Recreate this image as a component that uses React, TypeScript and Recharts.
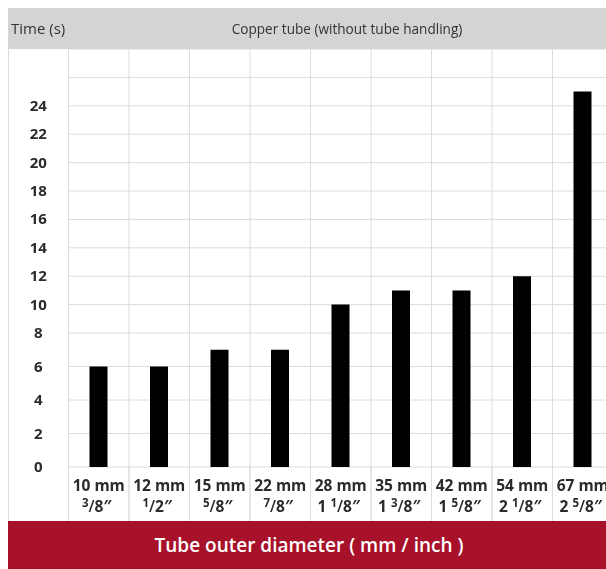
import { BarChart, Bar, XAxis, YAxis, CartesianGrid } from 'recharts';

const sizes = ['10 mm', '12 mm', '15 mm', '22 mm', '28 mm', '35 mm', '42 mm', '54 mm', '67 mm'];
const inchSizes = ['3/8', '1/2', '5/8', '7/8', '1 1/8', '1 3/8', '1 5/8', '2 1/8', '2 5/8'];
const times = [6, 6, 7, 7, 10, 11, 11, 12, 25];
const gridLevels = [0, 2, 4, 6, 8, 10, 12, 14, 16, 18, 20, 22, 24, 26];
const labelledMax = 24;

// the source chart squeezes the axis above 8 s
const SCALE_BREAK = 8;
const UPPER_STRETCH = 0.848;
const AXIS_TOP = 28;
const toAxis = (v: number) => (v <= SCALE_BREAK ? v : SCALE_BREAK + (v - SCALE_BREAK) * UPPER_STRETCH);
const fromAxis = (v: number) => (v <= SCALE_BREAK ? v : SCALE_BREAK + (v - SCALE_BREAK) / UPPER_STRETCH);

const data = sizes.map((size, i) => ({ size, inch: inchSizes[i], time: times[i], plotted: toAxis(times[i]) }));

const FONT = '"Open Sans", sans-serif';
const GRID = '#dcdcdc';
const TEXT = '#2b2b2b';
const HEADER_H = 41;
const Y_AXIS_W = 60.5;
const X_AXIS_H = 54;
const CHART_W = 700;
const CHART_H = 513;
const PLOT_W = 544.5;
const BAND = PLOT_W / sizes.length;

// vertical lines sit on the column edges, not the column centres
const columnLines = ({ offset }: any) =>
  Array.from({ length: sizes.length + 1 }, (_, i) => offset.left + (i * offset.width) / sizes.length);

function YTick(props: any) {
  const { y, payload } = props;
  const label = Math.round(fromAxis(payload.value));
  if (label > labelledMax) return <g />;
  return (
    <text x={Y_AXIS_W / 2} y={y} dy={5} textAnchor="middle" fontFamily={FONT} fontSize={15} fontWeight={700} fill={TEXT}>
      {label}
    </text>
  );
}

function XTick(props: any) {
  const { x, y, payload, index } = props;
  const inch: string = data[index]?.inch ?? '';
  const parts = inch.split(' ');
  const whole = parts.length > 1 ? parts[0] : '';
  const [num, den] = parts[parts.length - 1].split('/');
  return (
    <g>
      <line x1={x - BAND / 2} x2={x - BAND / 2} y1={y} y2={y + X_AXIS_H} stroke={GRID} />
      <line x1={x + BAND / 2} x2={x + BAND / 2} y1={y} y2={y + X_AXIS_H} stroke={GRID} />
      <text x={x} y={y + 24} textAnchor="middle" fontFamily={FONT} fontSize={15.5} fontWeight={700} fill={TEXT}>
        {payload.value}
      </text>
      <text x={x - 2} y={y + 45} textAnchor="middle" fontFamily={FONT} fontSize={15.5} fontWeight={700} fill={TEXT}>
        {whole ? <tspan>{whole + ' '}</tspan> : null}
        <tspan fontSize={11.5} dy={-5}>{num}</tspan>
        <tspan fontWeight={600} dy={5}>{'/'}</tspan>
        <tspan>{den + '\u2033'}</tspan>
      </text>
    </g>
  );
}

export default function App() {
  return (
    <div
      style={{
        position: 'fixed', left: 8, top: 8, width: 640, height: 561, overflow: 'hidden', fontFamily: FONT,
      }}
    >
      <BarChart
        width={CHART_W}
        height={CHART_H}
        data={data}
        margin={{ top: HEADER_H, right: CHART_W - Y_AXIS_W - PLOT_W, bottom: 0, left: 0 }}
      >
        <CartesianGrid stroke={GRID} verticalCoordinatesGenerator={columnLines} />
        <XAxis
          dataKey="size"
          height={X_AXIS_H}
          interval={0}
          axisLine={false}
          tickLine={false}
          tickSize={0}
          tickMargin={0}
          tick={<XTick />}
        />
        <YAxis
          type="number"
          domain={[0, toAxis(AXIS_TOP)]}
          ticks={gridLevels.map(toAxis)}
          interval={0}
          width={Y_AXIS_W}
          axisLine={false}
          tickLine={false}
          tick={<YTick />}
        />
        <Bar dataKey="plotted" fill="#000000" barSize={18} isAnimationActive={false} />
      </BarChart>

      <div
        style={{
          position: 'absolute', left: 0, top: 0, width: 640, height: HEADER_H, background: '#d4d4d4',
          color: '#333', lineHeight: HEADER_H + 'px',
        }}
      >
        <span style={{ position: 'absolute', left: 3, fontSize: 15 }}>Time (s)</span>
        <span
          style={{ position: 'absolute', left: 339, fontSize: 13.6, transform: 'translateX(-50%)', whiteSpace: 'nowrap' }}
        >
          Copper tube (without tube handling)
        </span>
      </div>

      <div style={{ position: 'absolute', left: 0, top: HEADER_H, width: 1, height: CHART_H - HEADER_H, background: GRID }} />

      <div
        style={{
          position: 'absolute', left: 0, top: CHART_H, width: 602, height: 48, background: '#a8112a',
          color: '#fff', fontSize: 19, fontWeight: 600, textAlign: 'center', lineHeight: '48px',
        }}
      >
        Tube outer diameter ( mm / inch )
      </div>
    </div>
  );
}
